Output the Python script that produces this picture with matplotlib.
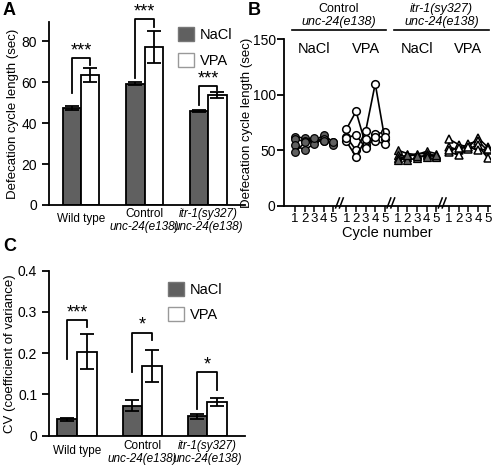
import numpy as np
import matplotlib
matplotlib.use("Agg")
import matplotlib.pyplot as plt
from matplotlib.patches import Patch

plt.rcParams['font.family'] = ['Liberation Sans', 'DejaVu Sans']
plt.rcParams['font.size'] = 9

# -------------------------------
# Data
# -------------------------------
# each strain label: (first line, italic?, second line or None)
strain_line1 = ["Wild type", "Control", "itr-1(sy327)"]
strain_line1_italic = [False, False, True]
strain_line2 = [None, "unc-24(e138)", "unc-24(e138)"]

# panel A: cycle length (sec)
len_nacl = [47.5, 59.3, 46.2]
len_nacl_err = [0.8, 0.8, 0.5]
len_vpa = [63.6, 77.3, 53.7]
len_vpa_err = [3.6, 7.8, 1.6]
len_stars = ["***", "***", "***"]

# panel C: coefficient of variance
cv_nacl = [0.040, 0.073, 0.047]
cv_nacl_err = [0.004, 0.013, 0.006]
cv_vpa = [0.204, 0.169, 0.082]
cv_vpa_err = [0.042, 0.039, 0.010]
cv_stars = ["***", "*", "*"]

# panel B: individual animals, cycles 1-5
cycles = [1, 2, 3, 4, 5]
ctrl_nacl = [[62, 61, 60, 58, 56],
             [60, 58, 58, 64, 57],
             [55, 50, 56, 60, 55],
             [48, 57, 61, 58, 57]]
ctrl_vpa = [[69, 85, 55, 65, 66],
            [62, 50, 67, 110, 60],
            [58, 44, 60, 58, 56],
            [61, 64, 52, 62, 62]]
itr_nacl = [[50, 47, 46, 49, 47],
            [46, 44, 47, 47, 45],
            [43, 41, 43, 46, 44],
            [41, 46, 45, 44, 46]]
itr_vpa = [[60, 55, 53, 61, 53],
           [53, 50, 56, 58, 50],
           [48, 46, 51, 55, 43],
           [50, 52, 53, 50, 51]]
treatments = ["NaCl", "VPA", "NaCl", "VPA"]

dark = "#606060"

fig = plt.figure(figsize=(4.95, 4.7), dpi=100)


def style_axes(ax):
    for s in ["top", "right"]:
        ax.spines[s].set_visible(False)
    for s in ["left", "bottom"]:
        ax.spines[s].set_linewidth(1.3)
    ax.tick_params(axis="y", direction="out", length=5, width=1.3, labelsize=10)


def strain_labels(ax, pad):
    # two-line group labels under the bars, second line italic
    for i in range(3):
        if strain_line2[i] is None:
            ax.annotate(strain_line1[i], (i, 0), xycoords=("data", "axes fraction"),
                        xytext=(0, -pad - 4), textcoords="offset points",
                        ha="center", va="top", fontsize=8.5)
        else:
            ax.annotate(strain_line1[i], (i, 0), xycoords=("data", "axes fraction"),
                        xytext=(0, -pad), textcoords="offset points", ha="center", va="top",
                        fontsize=8.5, style="italic" if strain_line1_italic[i] else "normal")
            ax.annotate(strain_line2[i], (i, 0), xycoords=("data", "axes fraction"),
                        xytext=(0, -pad - 9.7), textcoords="offset points", ha="center", va="top",
                        fontsize=8.5, style="italic")


def bar_panel(ax, nacl, nacl_err, vpa, vpa_err, stars, brackets, width, lg_anchor):
    x = np.arange(len(nacl))
    kw = dict(width=width, edgecolor="black", linewidth=1.3,
              error_kw=dict(elinewidth=1.3, capthick=1.3), capsize=5)
    ax.bar(x - width / 2, nacl, yerr=nacl_err, color=dark, **kw)
    ax.bar(x + width / 2, vpa, yerr=vpa_err, color="white", **kw)
    for i, (lo, top, rlo) in enumerate(brackets):
        ax.plot([x[i] - width / 2, x[i] - width / 2, x[i] + width / 2, x[i] + width / 2],
                [lo, top, top, rlo], color="black", lw=1.3, clip_on=False)
        ax.annotate(stars[i], (x[i], top), xytext=(0, -1), textcoords="offset points",
                    ha="center", va="bottom", fontsize=13, annotation_clip=False)
    ax.set_xticks(x)
    ax.set_xticklabels([])
    ax.tick_params(axis="x", length=0)
    handles = [Patch(facecolor=dark, edgecolor="#777777", label="NaCl"),
               Patch(facecolor="white", edgecolor="#999999", label="VPA")]
    ax.legend(handles=handles, loc="upper left", bbox_to_anchor=lg_anchor, frameon=False,
              handlelength=1.1, handleheight=1.1, handletextpad=0.4, labelspacing=0.7,
              fontsize=10.5, borderpad=0, borderaxespad=0)
    style_axes(ax)


# -------------------------------
# Panel A
# -------------------------------
axA = fig.add_axes([49 / 495, 1 - 205 / 470, 196 / 495, 183 / 470])
bar_panel(axA, len_nacl, len_nacl_err, len_vpa, len_vpa_err, len_stars,
          [(55, 72, 68.5), (62, 91, 87), (49, 58, 56)], 0.29, (0.66, 0.97))
axA.set_xlim(-0.504, 2.58)
axA.set_ylim(0, 89.5)
axA.set_yticks([0, 20, 40, 60, 80])
axA.set_ylabel("Defecation cycle length (sec)", fontsize=9.5, labelpad=2)
strain_labels(axA, 2)

# -------------------------------
# Panel C
# -------------------------------
axC = fig.add_axes([49 / 495, 1 - 435.7 / 470, 196 / 495, 165 / 470])
bar_panel(axC, cv_nacl, cv_nacl_err, cv_vpa, cv_vpa_err, cv_stars,
          [(0.185, 0.28, 0.263), (0.155, 0.25, 0.233), (0.065, 0.155, 0.11)], 0.3, (0.605, 0.93))
axC.set_xlim(-0.43, 2.58)
axC.set_ylim(0, 0.4)
axC.set_yticks([0, 0.1, 0.2, 0.3, 0.4])
axC.set_yticklabels(["0", "0.1", "0.2", "0.3", "0.4"])
axC.set_ylabel("CV (coefficient of variance)", fontsize=9.5, labelpad=1)
strain_labels(axC, 3)

# -------------------------------
# Panel B
# -------------------------------
axB = fig.add_axes([284 / 495, 1 - 205.7 / 470, 206 / 495, 166.4 / 470])
gap = 5.35
groups = [(ctrl_nacl, "o", dark), (ctrl_vpa, "o", "white"),
          (itr_nacl, "^", dark), (itr_vpa, "^", "white")]
xt, xl = [], []
for g, (series, mk, fc) in enumerate(groups):
    xs = np.array(cycles) + g * gap
    xt += list(xs)
    xl += [str(c) for c in cycles]
    for ys in series:
        axB.plot(xs, ys, color="black", lw=1.2, marker=mk, ms=5.5 if mk == "o" else 6,
                 mfc=fc, mec="black", mew=1.1 if fc == "white" else 0.9)
    axB.text(xs.mean(), 148, treatments[g], ha="center", va="top", fontsize=10.5)
    if g < 3:
        xb = 5 + g * gap + (gap - 4) / 2
        for dx in [-0.25, 0.15]:
            axB.plot([xb + dx - 0.2, xb + dx + 0.2], [-2, 7], color="black", lw=1.1, clip_on=False)
axB.set_xticks(xt)
axB.set_xticklabels(xl, fontsize=9.5)
axB.tick_params(axis="x", direction="out", length=4, width=1.1, pad=1)
axB.set_xlim(-0.15, 21.3)
axB.set_ylim(0, 150)
axB.set_yticks([0, 50, 100, 150])
style_axes(axB)
axB.tick_params(axis="y", pad=1)
axB.set_xlabel("Cycle number", fontsize=10.5, labelpad=1)
axB.set_ylabel("Defecation cycle length (sec)", fontsize=9.5, labelpad=0)

# strain headers above panel B
for k in range(2):
    x0, x1 = 0.65 + 2 * k * gap, 5.1 + (2 * k + 1) * gap
    axB.plot([x0, x1], [158, 158], color="black", lw=1.2, clip_on=False)
    xc = (x0 + x1) / 2
    axB.text(xc, 171.5, strain_line1[k + 1], ha="center", va="bottom", fontsize=9,
             style="italic" if strain_line1_italic[k + 1] else "normal", clip_on=False)
    axB.text(xc, 160.5, strain_line2[k + 1], ha="center", va="bottom", fontsize=9,
             style="italic", clip_on=False)

# panel letters
fig.text(3 / 495, 1 - 2 / 470, "A", fontsize=13, fontweight="bold", va="top")
fig.text(248 / 495, 1 - 2 / 470, "B", fontsize=13, fontweight="bold", va="top")
fig.text(3 / 495, 1 - 238 / 470, "C", fontsize=13, fontweight="bold", va="top")

fig.savefig("out.png", dpi=100)
